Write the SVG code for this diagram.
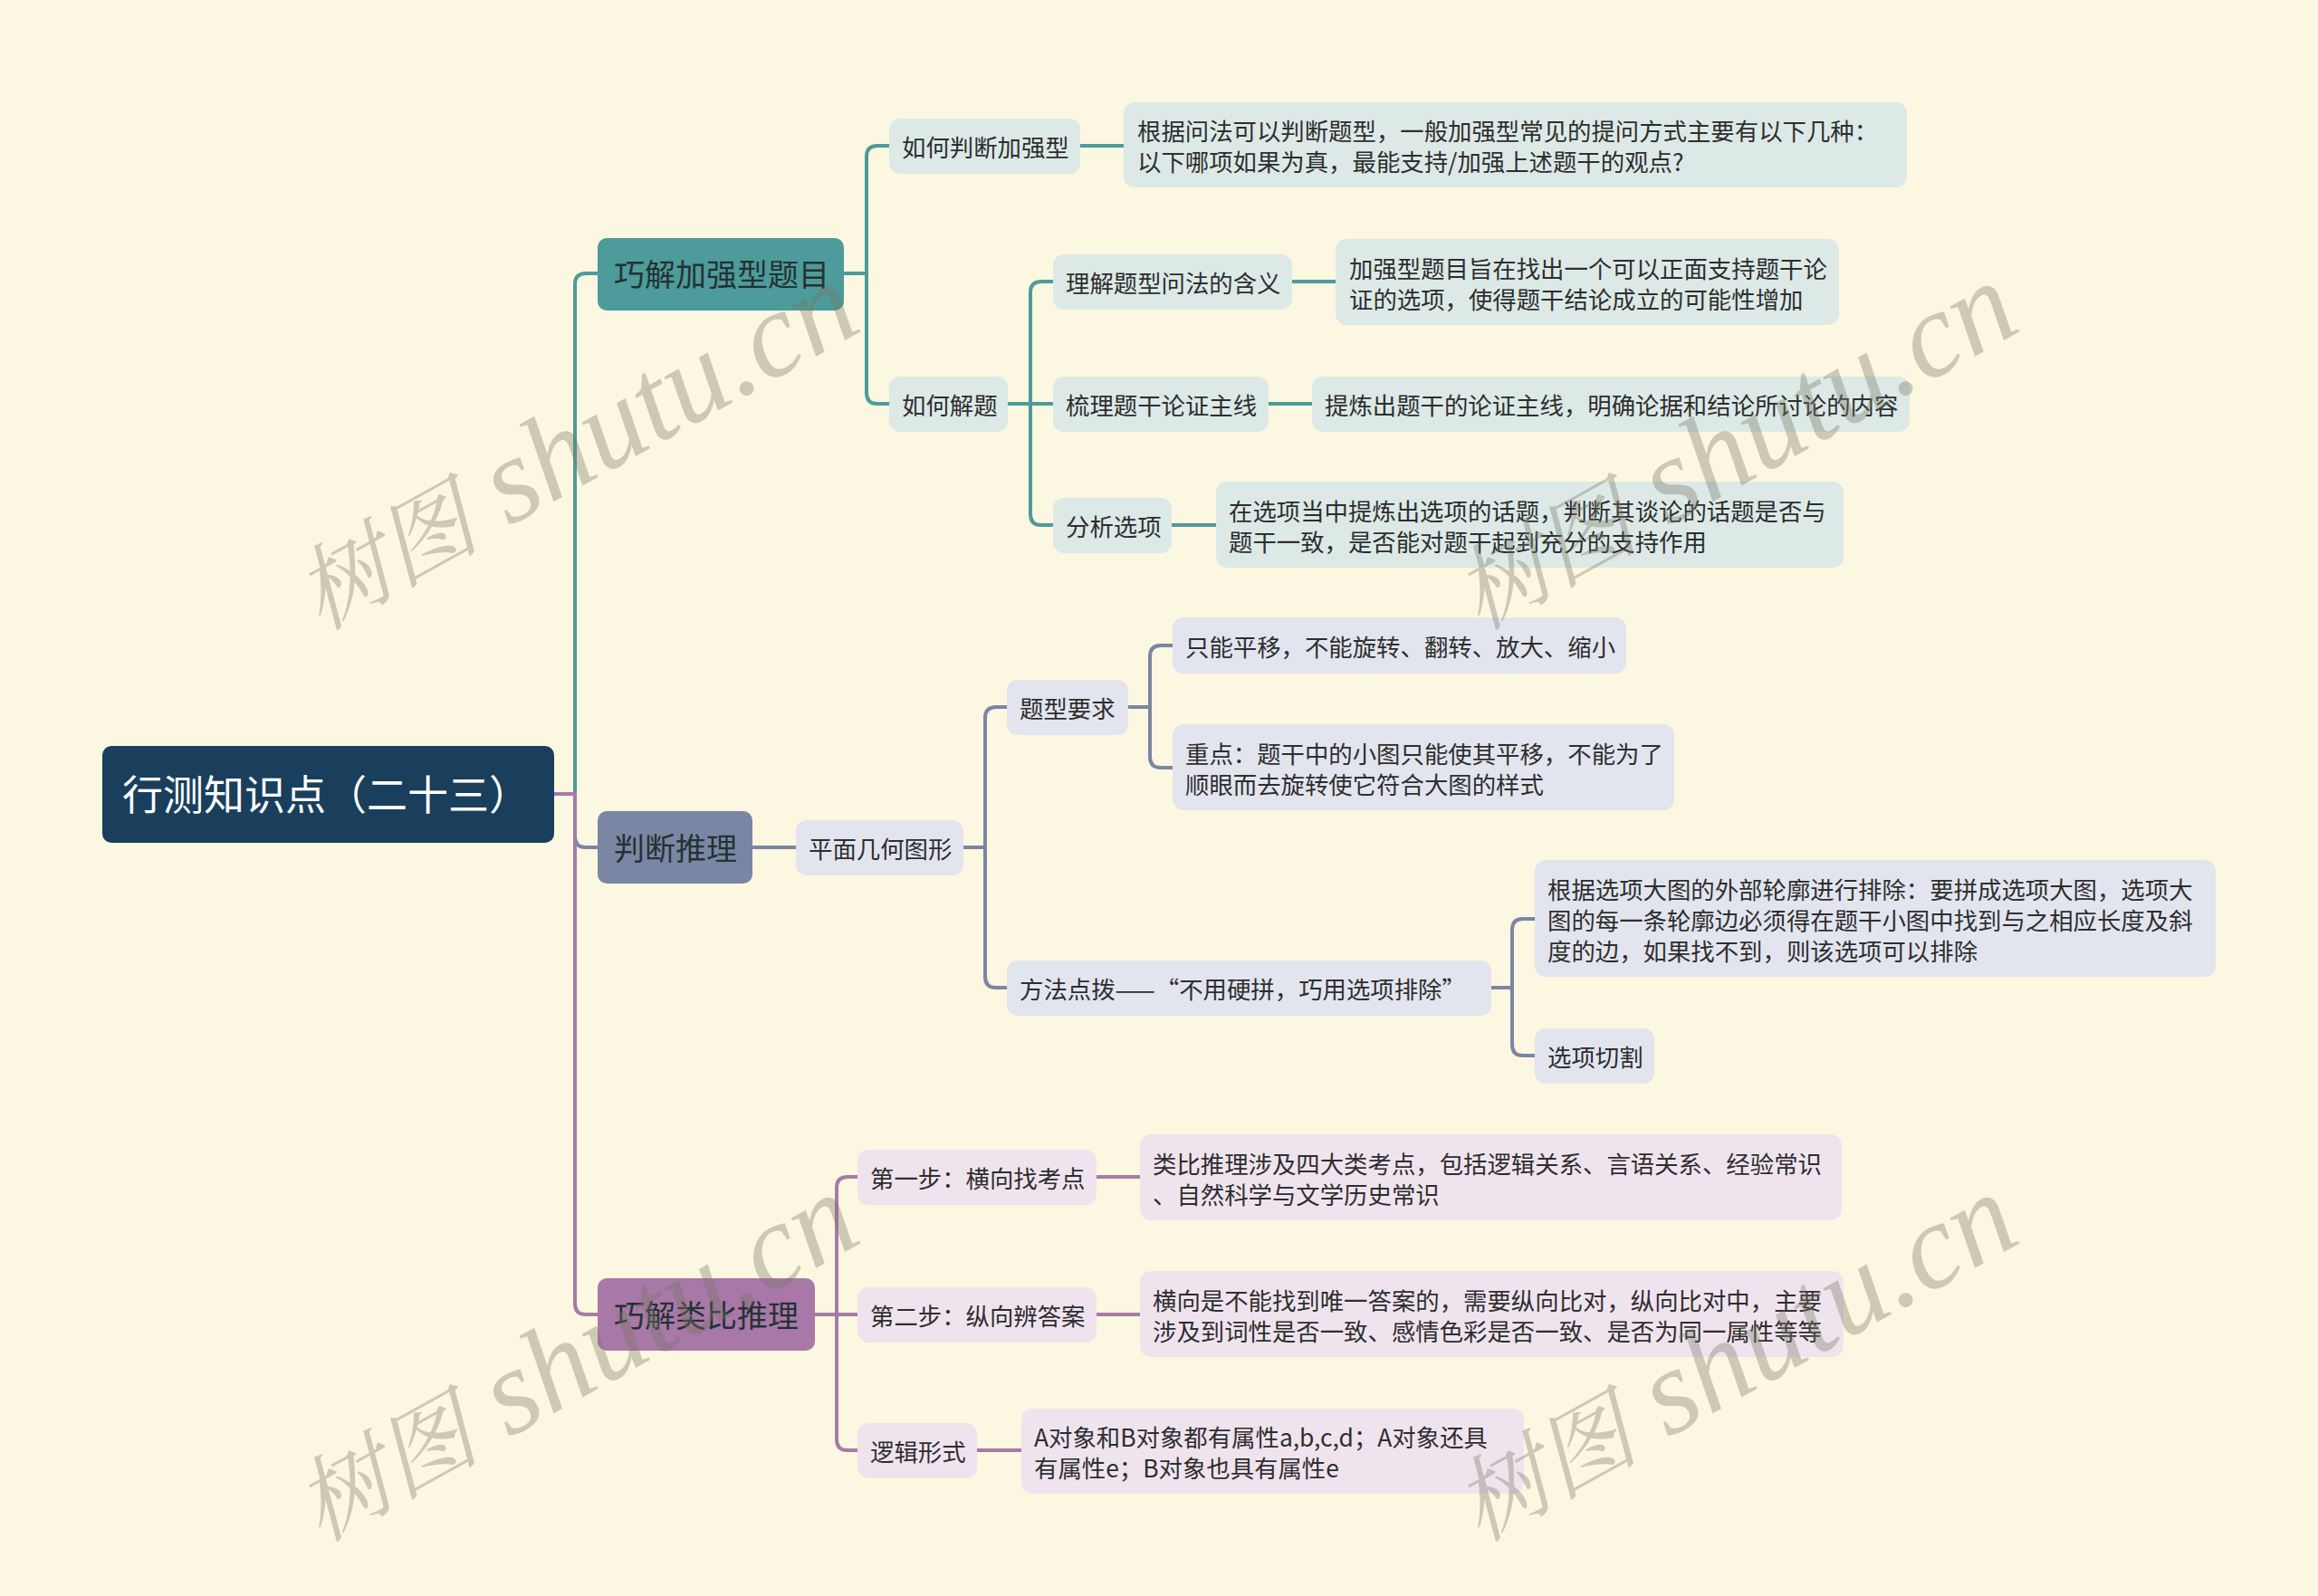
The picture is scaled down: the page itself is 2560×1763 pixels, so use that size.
<svg xmlns="http://www.w3.org/2000/svg" width="2560" height="1763" viewBox="0 0 2560 1763">
<style>
text{font-family:"Noto Sans CJK SC","Noto Sans",sans-serif;}
.root rect{fill:#1a3f5c;}
.root text{fill:#ffffff;font-size:45px;}
.b rect{rx:10px;}
.b text{fill:#243232;font-size:34px;}
.n text{fill:#2e2e2e;font-size:26.4px;}
.t rect{fill:#dce9e7;}
.g rect{fill:#e2e5ee;}
.p rect{fill:#efe4ee;}
.conn path{fill:none;stroke-width:4;stroke-linecap:round;stroke-linejoin:round;}
.ct{stroke:#4e9b9b;}
.cg{stroke:#7b86a3;}
.cp{stroke:#a67ba7;}
.wm{font-family:"Liberation Serif","Noto Serif CJK SC","Noto Sans CJK SC",serif;font-style:italic;font-size:134px;fill:#787864;fill-opacity:0.36;}
</style>
<rect x="0" y="0" width="2560" height="1763" fill="#fcf7e1"/>
<g id="connectors" class="conn">
<path class="ct" d="M612 877 H635 V314 Q635 302 647 302 H660"/>
<path class="cg" d="M612 877 H635 V924 Q635 936 647 936 H660"/>
<path class="cp" d="M612 877 H635 V1440 Q635 1452 647 1452 H660"/>
<path class="ct" d="M932 302 H957 V173 Q957 161 969 161 H982"/>
<path class="ct" d="M932 302 H957 V434 Q957 446 969 446 H982"/>
<path class="ct" d="M1193 161 H1241"/>
<path class="ct" d="M1113 446 H1138 V323 Q1138 311 1150 311 H1163"/>
<path class="ct" d="M1113 446 H1163"/>
<path class="ct" d="M1113 446 H1138 V568 Q1138 580 1150 580 H1163"/>
<path class="ct" d="M1427 311 H1475"/>
<path class="ct" d="M1401 446 H1449"/>
<path class="ct" d="M1294 580 H1343"/>
<path class="cg" d="M831 936 H879"/>
<path class="cg" d="M1064 936 H1088 V793 Q1088 781 1100 781 H1112"/>
<path class="cg" d="M1064 936 H1088 V1079 Q1088 1091 1100 1091 H1112"/>
<path class="cg" d="M1246 781 H1270 V725 Q1270 713 1282 713 H1295"/>
<path class="cg" d="M1246 781 H1270 V836 Q1270 848 1282 848 H1295"/>
<path class="cg" d="M1647 1091 H1670 V1027 Q1670 1015 1682 1015 H1695"/>
<path class="cg" d="M1647 1091 H1670 V1154 Q1670 1166 1682 1166 H1695"/>
<path class="cp" d="M900 1452 H924 V1312 Q924 1300 936 1300 H947"/>
<path class="cp" d="M900 1452 H947"/>
<path class="cp" d="M900 1452 H924 V1590 Q924 1602 936 1602 H947"/>
<path class="cp" d="M1211 1300 H1259"/>
<path class="cp" d="M1211 1452 H1259"/>
<path class="cp" d="M1079 1602 H1128"/>
</g>
<g id="root" class="root"><rect x="113" y="824" width="499" height="107" rx="10"/><text x="135" y="895">行测知识点（二十三）</text></g>
<g id="b1" class="b"><rect x="660" y="263" width="272" height="80" fill="#4d9b9b"/><text x="678" y="316">巧解加强型题目</text></g>
<g id="b2" class="b"><rect x="660" y="896" width="171" height="80" fill="#7b86a5"/><text x="678" y="950">判断推理</text></g>
<g id="b3" class="b"><rect x="660" y="1412" width="240" height="80" fill="#a878a8"/><text x="678" y="1466">巧解类比推理</text></g>

<g id="c11" class="n t"><rect x="982" y="131" width="211" height="61" rx="12"/><text x="996" y="173">如何判断加强型</text></g>
<g id="d11" class="n t"><rect x="1241" y="113" width="865" height="94" rx="12"/><text x="1256" y="155">根据问法可以判断题型，一般加强型常见的提问方式主要有以下几种：</text><text x="1256" y="189">以下哪项如果为真，最能支持/加强上述题干的观点?</text></g>
<g id="c12" class="n t"><rect x="982" y="416" width="131" height="61" rx="12"/><text x="996" y="458">如何解题</text></g>
<g id="c121" class="n t"><rect x="1163" y="281" width="264" height="61" rx="12"/><text x="1177" y="323">理解题型问法的含义</text></g>
<g id="d121" class="n t"><rect x="1475" y="264" width="556" height="95" rx="12"/><text x="1490" y="307">加强型题目旨在找出一个可以正面支持题干论</text><text x="1490" y="341">证的选项，使得题干结论成立的可能性增加</text></g>
<g id="c122" class="n t"><rect x="1163" y="416" width="238" height="61" rx="12"/><text x="1177" y="458">梳理题干论证主线</text></g>
<g id="d122" class="n t"><rect x="1449" y="416" width="660" height="61" rx="12"/><text x="1463" y="458">提炼出题干的论证主线，明确论据和结论所讨论的内容</text></g>
<g id="c123" class="n t"><rect x="1163" y="550" width="131" height="61" rx="12"/><text x="1177" y="592">分析选项</text></g>
<g id="d123" class="n t"><rect x="1343" y="532" width="693" height="95" rx="12"/><text x="1357" y="575">在选项当中提炼出选项的话题，判断其谈论的话题是否与</text><text x="1357" y="609">题干一致，是否能对题干起到充分的支持作用</text></g>

<g id="c21" class="n g"><rect x="879" y="906" width="185" height="61" rx="12"/><text x="893" y="948">平面几何图形</text></g>
<g id="c211" class="n g"><rect x="1112" y="751" width="134" height="61" rx="12"/><text x="1126" y="793">题型要求</text></g>
<g id="d2111" class="n g"><rect x="1295" y="682" width="501" height="62" rx="12"/><text x="1309" y="725">只能平移，不能旋转、翻转、放大、缩小</text></g>
<g id="d2112" class="n g"><rect x="1295" y="800" width="554" height="95" rx="12"/><text x="1309" y="843">重点：题干中的小图只能使其平移，不能为了</text><text x="1309" y="877">顺眼而去旋转使它符合大图的样式</text></g>
<g id="c212" class="n g"><rect x="1112" y="1061" width="535" height="61" rx="12"/><text x="1126" y="1103">方法点拨——“不用硬拼，巧用选项排除”</text></g>
<g id="d2121" class="n g"><rect x="1695" y="950" width="752" height="129" rx="12"/><text x="1709" y="993">根据选项大图的外部轮廓进行排除：要拼成选项大图，选项大</text><text x="1709" y="1027">图的每一条轮廓边必须得在题干小图中找到与之相应长度及斜</text><text x="1709" y="1061">度的边，如果找不到，则该选项可以排除</text></g>
<g id="d2122" class="n g"><rect x="1695" y="1136" width="132" height="61" rx="12"/><text x="1709" y="1178">选项切割</text></g>

<g id="c31" class="n p"><rect x="947" y="1270" width="264" height="61" rx="12"/><text x="961" y="1312">第一步：横向找考点</text></g>
<g id="d31" class="n p"><rect x="1259" y="1253" width="775" height="95" rx="12"/><text x="1273" y="1296">类比推理涉及四大类考点，包括逻辑关系、言语关系、经验常识</text><text x="1273" y="1330">、自然科学与文学历史常识</text></g>
<g id="c32" class="n p"><rect x="947" y="1422" width="264" height="61" rx="12"/><text x="961" y="1464">第二步：纵向辨答案</text></g>
<g id="d32" class="n p"><rect x="1259" y="1404" width="777" height="95" rx="12"/><text x="1273" y="1447">横向是不能找到唯一答案的，需要纵向比对，纵向比对中，主要</text><text x="1273" y="1481">涉及到词性是否一致、感情色彩是否一致、是否为同一属性等等</text></g>
<g id="c33" class="n p"><rect x="947" y="1572" width="132" height="61" rx="12"/><text x="961" y="1614">逻辑形式</text></g>
<g id="d33" class="n p"><rect x="1128" y="1556" width="555" height="94" rx="12"/><text x="1142" y="1598">A对象和B对象都有属性a,b,c,d；A对象还具</text><text x="1142" y="1632">有属性e；B对象也具有属性e</text></g>

<g id="watermarks">
<text class="wm" transform="translate(354 697) rotate(-29)"><tspan font-size="102">树图</tspan> shutu.cn</text>
<text class="wm" transform="translate(1634 697) rotate(-29)"><tspan font-size="102">树图</tspan> shutu.cn</text>
<text class="wm" transform="translate(354 1704) rotate(-29)"><tspan font-size="102">树图</tspan> shutu.cn</text>
<text class="wm" transform="translate(1634 1704) rotate(-29)"><tspan font-size="102">树图</tspan> shutu.cn</text>
</g>
</svg>
